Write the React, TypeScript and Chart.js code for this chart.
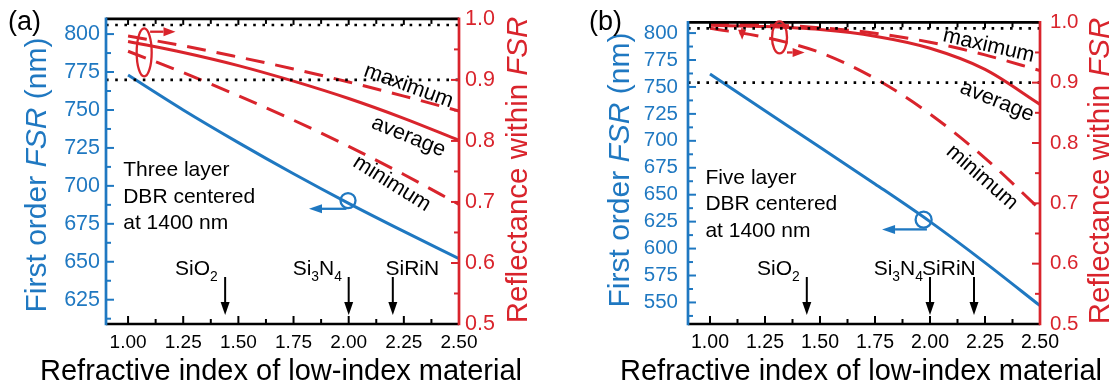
import React, { useEffect, useRef } from "react";
import { Chart, registerables } from "chart.js";

Chart.register(...registerables);

const FONT = "'Liberation Sans', Arial, Helvetica, sans-serif";
const BLUE = "#1f78c1";
const RED = "#d9242c";
const BLACK = "#000000";

// ---------- data ----------
const refractiveIndex = [1.0, 1.25, 1.5, 1.75, 2.0, 2.25, 2.5];

const fsrThreeLayer = [773, 750, 728.5, 708, 688.5, 670, 652];
const avgThreeLayer = [0.963, 0.945, 0.9235, 0.898, 0.8695, 0.837, 0.801];
const maxThreeLayer = [0.972, 0.956, 0.9375, 0.918, 0.8965, 0.8735, 0.849];
const minThreeLayer = [0.947, 0.912, 0.874, 0.834, 0.791, 0.745, 0.696];

const fsrFiveLayer = [762, 728, 694, 660, 625, 587, 547];
const avgFiveLayer = [0.995, 0.993, 0.988, 0.977, 0.957, 0.922, 0.864];
const maxFiveLayer = [0.997, 0.996, 0.991, 0.982, 0.967, 0.946, 0.92];
const minFiveLayer = [0.99, 0.975, 0.95, 0.907, 0.848, 0.775, 0.69];

const xTickValues = [1.0, 1.25, 1.5, 1.75, 2.0, 2.25, 2.5];
const fsrTicksThree = [625, 650, 675, 700, 725, 750, 775, 800];
const fsrTicksFive = [550, 575, 600, 625, 650, 675, 700, 725, 750, 775, 800];
const reflectanceTicks = [0.5, 0.6, 0.7, 0.8, 0.9, 1.0];
const reflectanceGuides = [0.99, 0.9];

const materialNames = ["SiO2", "Si3N4", "SiRiN"];
const materialIndex = [1.44, 2.0, 2.2];

const X_MIN = 0.9;
const X_MAX = 2.5;

// ---------- panel layout / styling ----------
const panels = [
  {
    label: "(a)",
    left: 0,
    width: 559,
    area: { left: 106, right: 459, top: 14, bottom: 324 },
    fsrRange: [609, 810],
    fsrTicks: fsrTicksThree,
    fsr: fsrThreeLayer,
    avg: avgThreeLayer,
    max: maxThreeLayer,
    min: minThreeLayer,
    yTickFont: 21.5,
    yTickPad: 6,
    xTickFont: 19,
    labelPos: { x: 8, y: 30 },
    leftTitle: { x: 38, y: 175 },
    rightTitle: { x: 519, y: 170 },
    xTitle: { x: 281, y: 380 },
    textBlock: { lines: ["Three layer", "DBR centered", "at 1400 nm"], n: 0.978, fsr: 706.6, spacing: 26.7 },
    curveLabels: [
      { text: "maximum", n: 2.271, r: 0.89, angle: 20 },
      { text: "average", n: 2.271, r: 0.807, angle: 22 },
      { text: "minimum", n: 2.196, r: 0.73, angle: 32 },
    ],
    materialLabelN: [1.213, 1.746, 2.167],
    redEllipse: { n: 1.073, r: 0.945, rx: 7.5, ry: 24 },
    redArrow: { n1: 1.1, n2: 1.215, r: 0.979 },
    redMark: null as null | { n: number; r1: number; r2: number },
    blueCircle: { n: 1.997, fsr: 690.3, rad: 7.5 },
    blueArrow: { n1: 1.99, n2: 1.82, fsr: 684.9 },
  },
  {
    label: "(b)",
    left: 559,
    width: 560,
    area: { left: 129, right: 481, top: 14, bottom: 324 },
    fsrRange: [530, 810],
    fsrTicks: fsrTicksFive,
    fsr: fsrFiveLayer,
    avg: avgFiveLayer,
    max: maxFiveLayer,
    min: minFiveLayer,
    yTickFont: 20.5,
    yTickPad: 10,
    xTickFont: 19.5,
    labelPos: { x: 30, y: 30 },
    leftTitle: { x: 62, y: 170 },
    rightTitle: { x: 542, y: 171 },
    xTitle: { x: 302, y: 380 },
    textBlock: { lines: ["Five layer", "DBR centered", "at 1400 nm"], n: 0.979, fsr: 660, spacing: 26.3 },
    curveLabels: [
      { text: "maximum", n: 2.267, r: 0.961, angle: 13 },
      { text: "average", n: 2.305, r: 0.869, angle: 22 },
      { text: "minimum", n: 2.236, r: 0.743, angle: 41 },
    ],
    materialLabelN: [1.214, 1.744, 1.964],
    redEllipse: { n: 1.316, r: 0.975, rx: 7.5, ry: 16 },
    redArrow: { n1: 1.35, n2: 1.43, r: 0.95 },
    redMark: { n: 1.146, r1: 0.99, r2: 0.971 },
    blueCircle: { n: 1.971, fsr: 626.8, rad: 8 },
    blueArrow: { n1: 1.986, n2: 1.782, fsr: 617.8 },
  },
];

type Part = { t: string; sub?: boolean; italic?: boolean };

function splitSubscripts(name: string): Part[] {
  const parts: Part[] = [];
  for (const ch of name) {
    const sub = /[0-9]/.test(ch);
    const last = parts[parts.length - 1];
    if (last && !!last.sub === sub) last.t += ch;
    else parts.push({ t: ch, sub });
  }
  return parts;
}

function partFont(p: Part, size: number) {
  const s = p.sub ? size * 0.66 : size;
  return `${p.italic ? "italic " : ""}${s}px ${FONT}`;
}

function richWidth(ctx: CanvasRenderingContext2D, parts: Part[], size: number) {
  let w = 0;
  for (const p of parts) {
    ctx.font = partFont(p, size);
    w += ctx.measureText(p.t).width;
  }
  return w;
}

function drawRich(
  ctx: CanvasRenderingContext2D,
  parts: Part[],
  x: number,
  y: number,
  size: number,
  color: string,
  align: "left" | "center"
) {
  const total = richWidth(ctx, parts, size);
  let cx = align === "center" ? x - total / 2 : x;
  ctx.fillStyle = color;
  ctx.textAlign = "left";
  for (const p of parts) {
    ctx.font = partFont(p, size);
    ctx.fillText(p.t, cx, p.sub ? y + size * 0.28 : y);
    cx += ctx.measureText(p.t).width;
  }
}

function drawArrow(
  ctx: CanvasRenderingContext2D,
  x1: number,
  y1: number,
  x2: number,
  y2: number,
  color: string,
  lw: number,
  headLen: number,
  headW: number
) {
  const ang = Math.atan2(y2 - y1, x2 - x1);
  const bx = x2 - Math.cos(ang) * headLen;
  const by = y2 - Math.sin(ang) * headLen;
  ctx.strokeStyle = color;
  ctx.fillStyle = color;
  ctx.lineWidth = lw;
  ctx.setLineDash([]);
  ctx.beginPath();
  ctx.moveTo(x1, y1);
  ctx.lineTo(bx, by);
  ctx.stroke();
  ctx.beginPath();
  ctx.moveTo(x2, y2);
  ctx.lineTo(bx + Math.sin(ang) * headW / 2, by - Math.cos(ang) * headW / 2);
  ctx.lineTo(bx - Math.sin(ang) * headW / 2, by + Math.cos(ang) * headW / 2);
  ctx.closePath();
  ctx.fill();
}

function minorTicks(majors: number[], lo: number, hi: number) {
  const step = majors[1] - majors[0];
  const res: number[] = [];
  const cand = [majors[0] - step / 2, ...majors.map((m) => m + step / 2)];
  for (const v of cand) if (v > lo + 1e-9 && v < hi - 1e-9) res.push(v);
  return res;
}

const decorPlugin = {
  id: "decor",
  afterDatasetsDraw(chart: any, _args: any, opts: any) {
    const spec = opts.spec as (typeof panels)[number];
    const ctx: CanvasRenderingContext2D = chart.ctx;
    const a = chart.chartArea;
    const xs = chart.scales.x;
    const yl = chart.scales.yFsr;
    const yr = chart.scales.yR;
    ctx.save();
    ctx.setLineDash([]);
    ctx.lineCap = "butt";

    // tick marks (inward)
    ctx.lineWidth = 2;
    ctx.strokeStyle = BLACK;
    const xMinor = minorTicks(xTickValues, X_MIN, X_MAX);
    const tick = (x1: number, y1: number, x2: number, y2: number) => {
      ctx.beginPath();
      ctx.moveTo(x1, y1);
      ctx.lineTo(x2, y2);
      ctx.stroke();
    };
    for (const v of xTickValues) {
      const px = xs.getPixelForValue(v);
      if (px < a.right - 2) {
        tick(px, a.bottom, px, a.bottom - 8);
        tick(px, a.top, px, a.top + 6);
      }
    }
    for (const v of xMinor) {
      const px = xs.getPixelForValue(v);
      tick(px, a.bottom, px, a.bottom - 5);
      tick(px, a.top, px, a.top + 5);
    }
    ctx.strokeStyle = BLUE;
    for (const v of spec.fsrTicks) {
      const py = yl.getPixelForValue(v);
      tick(a.left, py, a.left + 8, py);
    }
    for (const v of minorTicks(spec.fsrTicks, spec.fsrRange[0], spec.fsrRange[1])) {
      const py = yl.getPixelForValue(v);
      tick(a.left, py, a.left + 5, py);
    }
    ctx.strokeStyle = RED;
    for (const v of reflectanceTicks) {
      const py = yr.getPixelForValue(v);
      tick(a.right, py, a.right - 8, py);
    }
    for (const v of minorTicks(reflectanceTicks, 0.5, 1.0)) {
      const py = yr.getPixelForValue(v);
      tick(a.right, py, a.right - 5, py);
    }

    // axis lines
    ctx.lineWidth = 2.7;
    ctx.strokeStyle = BLACK;
    tick(a.left, a.top, a.right, a.top);
    tick(a.left, a.bottom, a.right, a.bottom);
    ctx.strokeStyle = BLUE;
    tick(a.left, a.top - 1.3, a.left, a.bottom + 1.3);
    ctx.strokeStyle = RED;
    tick(a.right, a.top - 1.3, a.right, a.bottom + 1.3);

    // material arrows + labels
    materialNames.forEach((name, i) => {
      const px = xs.getPixelForValue(materialIndex[i]);
      drawArrow(ctx, px, a.bottom - 47, px, a.bottom - 9, BLACK, 2, 13, 9);
      const lx = xs.getPixelForValue(spec.materialLabelN[i]);
      drawRich(ctx, splitSubscripts(name), lx, a.bottom - 49, 21, BLACK, "left");
    });

    // text block
    ctx.textBaseline = "alphabetic";
    const tb = spec.textBlock;
    const tx = xs.getPixelForValue(tb.n);
    const ty = yl.getPixelForValue(tb.fsr);
    ctx.font = `21px ${FONT}`;
    ctx.fillStyle = BLACK;
    ctx.textAlign = "left";
    tb.lines.forEach((line, i) => ctx.fillText(line, tx, ty + i * tb.spacing));

    // curve labels
    for (const cl of spec.curveLabels) {
      const px = xs.getPixelForValue(cl.n);
      const py = yr.getPixelForValue(cl.r);
      ctx.save();
      ctx.translate(px, py);
      ctx.rotate((cl.angle * Math.PI) / 180);
      ctx.font = `21.5px ${FONT}`;
      ctx.textAlign = "center";
      ctx.textBaseline = "middle";
      ctx.fillStyle = BLACK;
      ctx.fillText(cl.text, 0, 0);
      ctx.restore();
    }

    // red ellipse + arrow
    const e = spec.redEllipse;
    ctx.strokeStyle = RED;
    ctx.lineWidth = 2.3;
    ctx.beginPath();
    ctx.ellipse(xs.getPixelForValue(e.n), yr.getPixelForValue(e.r), e.rx, e.ry, 0, 0, Math.PI * 2);
    ctx.stroke();
    const ra = spec.redArrow;
    drawArrow(
      ctx,
      xs.getPixelForValue(ra.n1),
      yr.getPixelForValue(ra.r),
      xs.getPixelForValue(ra.n2),
      yr.getPixelForValue(ra.r),
      RED,
      2.3,
      12,
      9
    );
    if (spec.redMark) {
      const m = spec.redMark;
      const mx = xs.getPixelForValue(m.n);
      drawArrow(ctx, mx, yr.getPixelForValue(m.r1), mx, yr.getPixelForValue(m.r2), RED, 2.3, 10, 8);
    }

    // blue circle + arrow
    const bc = spec.blueCircle;
    ctx.strokeStyle = BLUE;
    ctx.lineWidth = 2.3;
    ctx.beginPath();
    ctx.arc(xs.getPixelForValue(bc.n), yl.getPixelForValue(bc.fsr), bc.rad, 0, Math.PI * 2);
    ctx.stroke();
    const ba = spec.blueArrow;
    drawArrow(
      ctx,
      xs.getPixelForValue(ba.n1),
      yl.getPixelForValue(ba.fsr),
      xs.getPixelForValue(ba.n2),
      yl.getPixelForValue(ba.fsr),
      BLUE,
      2.3,
      13,
      9
    );

    // titles
    ctx.textBaseline = "middle";
    ctx.save();
    ctx.translate(spec.leftTitle.x, spec.leftTitle.y);
    ctx.rotate(-Math.PI / 2);
    drawRich(ctx, [{ t: "First order " }, { t: "FSR", italic: true }, { t: " (nm)" }], 0, 0, 30, BLUE, "center");
    ctx.restore();
    ctx.save();
    ctx.translate(spec.rightTitle.x, spec.rightTitle.y);
    ctx.rotate(-Math.PI / 2);
    drawRich(ctx, [{ t: "Reflectance within " }, { t: "FSR", italic: true }], 0, 0, 29.5, RED, "center");
    ctx.restore();
    ctx.textBaseline = "alphabetic";
    drawRich(ctx, [{ t: "Refractive index of low-index material" }], spec.xTitle.x, spec.xTitle.y, 29, BLACK, "center");
    drawRich(ctx, [{ t: spec.label }], spec.labelPos.x, spec.labelPos.y, 27, BLACK, "left");

    ctx.restore();
  },
};

function buildConfig(spec: (typeof panels)[number]): any {
  const pts = (arr: number[]) => refractiveIndex.map((n, i) => ({ x: n, y: arr[i] }));
  const guideSets = reflectanceGuides.map((lvl) => ({
    data: [
      { x: X_MIN, y: lvl },
      { x: X_MAX, y: lvl },
    ],
    yAxisID: "yR",
    borderColor: BLACK,
    borderWidth: 2.6,
    borderDash: [2.6, 6.6],
    pointRadius: 0,
  }));
  const redBase = { yAxisID: "yR", borderColor: RED, borderWidth: 3, pointRadius: 0, cubicInterpolationMode: "monotone" };
  return {
    type: "line",
    data: {
      datasets: [
        ...guideSets,
        { ...redBase, data: pts(spec.max), borderDash: [19, 11] },
        { ...redBase, data: pts(spec.min), borderDash: [19, 11] },
        { ...redBase, data: pts(spec.avg) },
        {
          data: pts(spec.fsr),
          yAxisID: "yFsr",
          borderColor: BLUE,
          borderWidth: 3,
          pointRadius: 0,
          cubicInterpolationMode: "monotone",
        },
      ],
    },
    options: {
      animation: false,
      responsive: false,
      devicePixelRatio: 1,
      events: [],
      layout: { padding: { top: spec.area.top, left: 0, right: 0, bottom: 0 } },
      plugins: {
        legend: { display: false },
        tooltip: { enabled: false },
        decor: { spec },
      },
      scales: {
        x: {
          type: "linear",
          position: "bottom",
          min: X_MIN,
          max: X_MAX,
          grid: { display: false, drawTicks: false },
          border: { display: false },
          afterBuildTicks: (s: any) => {
            s.ticks = xTickValues.map((v) => ({ value: v }));
          },
          afterFit: (s: any) => {
            s.height = 389 - spec.area.bottom;
          },
          ticks: {
            color: BLACK,
            padding: 7,
            maxRotation: 0,
            autoSkip: false,
            font: { family: FONT, size: spec.xTickFont },
            callback: (v: number) => Number(v).toFixed(2),
          },
        },
        yFsr: {
          type: "linear",
          position: "left",
          min: spec.fsrRange[0],
          max: spec.fsrRange[1],
          grid: { display: false, drawTicks: false },
          border: { display: false },
          afterBuildTicks: (s: any) => {
            s.ticks = spec.fsrTicks.map((v) => ({ value: v }));
          },
          afterFit: (s: any) => {
            s.width = spec.area.left;
          },
          ticks: {
            color: BLUE,
            padding: spec.yTickPad,
            autoSkip: false,
            font: { family: FONT, size: spec.yTickFont },
            callback: (v: number) => String(Math.round(v)),
          },
        },
        yR: {
          type: "linear",
          position: "right",
          min: 0.5,
          max: 1.0,
          grid: { display: false, drawTicks: false },
          border: { display: false },
          afterBuildTicks: (s: any) => {
            s.ticks = reflectanceTicks.map((v) => ({ value: v }));
          },
          afterFit: (s: any) => {
            s.width = spec.width - spec.area.right;
          },
          ticks: {
            color: RED,
            padding: spec.yTickPad,
            autoSkip: false,
            font: { family: FONT, size: spec.yTickFont },
            callback: (v: number) => Number(v).toFixed(1),
          },
        },
      },
    },
    plugins: [decorPlugin],
  };
}

function Panel({ spec }: { spec: (typeof panels)[number] }) {
  const ref = useRef<HTMLCanvasElement>(null);
  useEffect(() => {
    const chart = new Chart(ref.current as HTMLCanvasElement, buildConfig(spec));
    return () => chart.destroy();
  }, [spec]);
  return (
    <canvas
      ref={ref}
      width={spec.width}
      height={389}
      style={{ position: "absolute", left: spec.left, top: 0, width: spec.width, height: 389 }}
    />
  );
}

export default function App() {
  return (
    <div style={{ position: "fixed", left: 0, top: 0, width: 1119, height: 389, background: "#ffffff", overflow: "hidden" }}>
      {panels.map((p) => (
        <Panel key={p.label} spec={p} />
      ))}
    </div>
  );
}
